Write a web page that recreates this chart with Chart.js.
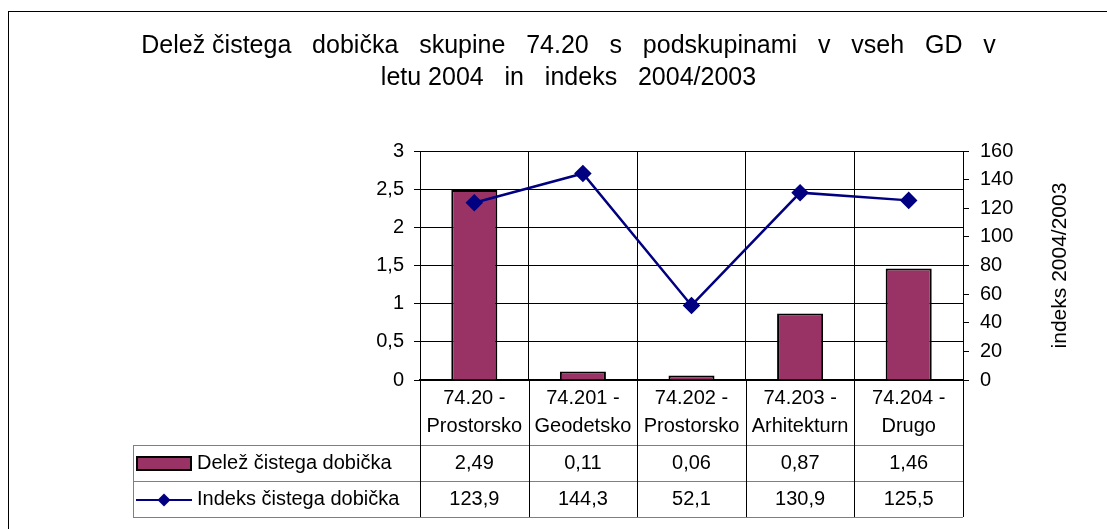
<!DOCTYPE html>
<html>
<head>
<meta charset="utf-8">
<script src="https://cdn.jsdelivr.net/npm/chart.js@4/dist/chart.umd.min.js"></script>
<style>
  body { margin: 0; background: #fff; }
  #wrap { width: 1107px; height: 529px; }
</style>
</head>
<body>
<div id="wrap"><canvas id="chart" width="1107" height="529"></canvas></div>
<script>
// Data
const categories = [
    ['74.20 -', 'Prostorsko'],
    ['74.201 -', 'Geodetsko'],
    ['74.202 -', 'Prostorsko'],
    ['74.203 -', 'Arhitekturn'],
    ['74.204 -', 'Drugo']
];
const shareValues = [2.49, 0.11, 0.06, 0.87, 1.46];
const indexValues = [123.9, 144.3, 52.1, 130.9, 125.5];
const shareName = 'Delež čistega dobička';
const indexName = 'Indeks čistega dobička';
const titleLines = [
    'Delež čistega   dobička   skupine   74.20   s   podskupinami   v   vseh   GD   v',
    'letu 2004   in   indeks   2004/2003'
];
const rightAxisTitle = 'indeks 2004/2003';

const FONT = 'Liberation Sans, Arial, sans-serif';
const BAR_COLOR = '#993366';
const LINE_COLOR = '#000080';
const comma = v => v.toString().replace('.', ',');

// Frame, data table, legend keys, right axis title
const extras = {
    id: 'extras',
    beforeDraw(chart) {
        const ctx = chart.ctx;
        ctx.save();
        ctx.fillStyle = '#fff';
        ctx.fillRect(0, 0, chart.width, chart.height);
        ctx.strokeStyle = '#000';
        ctx.lineWidth = 1;
        ctx.strokeRect(8.5, 11.5, 1300, 700);
        ctx.restore();
    },
    afterDraw(chart) {
        const ctx = chart.ctx;
        const x = chart.scales.x;
        const area = chart.chartArea;
        const n = categories.length;
        const colW = (area.right - area.left) / n;
        const headBottom = area.bottom + 65;
        const rowH = 36;
        const tableLeft = 133;

        ctx.save();
        // horizontal table lines
        ctx.strokeStyle = '#808080';
        ctx.lineWidth = 1;
        [0, 1, 2].forEach(i => {
            const y = Math.round(headBottom + i * rowH) + 0.5;
            ctx.beginPath();
            ctx.moveTo(tableLeft, y);
            ctx.lineTo(area.right, y);
            ctx.stroke();
        });
        ctx.beginPath();
        ctx.moveTo(tableLeft + 0.5, headBottom);
        ctx.lineTo(tableLeft + 0.5, headBottom + 2 * rowH);
        ctx.stroke();

        // vertical column lines below the plot
        ctx.strokeStyle = '#000';
        for (let i = 0; i <= n; i++) {
            const vx = Math.round(area.left + i * colW) + 0.5;
            ctx.beginPath();
            ctx.moveTo(vx, area.bottom);
            ctx.lineTo(vx, headBottom + 2 * rowH);
            ctx.stroke();
        }

        // values
        ctx.fillStyle = '#000';
        ctx.font = '20px ' + FONT;
        ctx.textAlign = 'center';
        ctx.textBaseline = 'middle';
        for (let i = 0; i < n; i++) {
            const cx = x.getPixelForValue(i);
            ctx.fillText(comma(shareValues[i]), cx, headBottom + rowH / 2);
            ctx.fillText(comma(indexValues[i]), cx, headBottom + rowH * 1.5);
        }

        // legend keys
        const y1 = headBottom + rowH / 2;
        const y2 = headBottom + rowH * 1.5;
        ctx.fillStyle = BAR_COLOR;
        ctx.fillRect(137, y1 - 6, 54, 13);
        ctx.strokeStyle = '#000';
        ctx.lineWidth = 2;
        ctx.strokeRect(137, y1 - 6, 54, 13);
        ctx.strokeStyle = LINE_COLOR;
        ctx.beginPath();
        ctx.moveTo(136, y2 + 1);
        ctx.lineTo(192, y2 + 1);
        ctx.stroke();
        ctx.fillStyle = LINE_COLOR;
        ctx.beginPath();
        ctx.moveTo(164, y2 + 1 - 6.5);
        ctx.lineTo(170.5, y2 + 1);
        ctx.lineTo(164, y2 + 1 + 6.5);
        ctx.lineTo(157.5, y2 + 1);
        ctx.closePath();
        ctx.fill();

        ctx.fillStyle = '#000';
        ctx.textAlign = 'left';
        ctx.fillText(shareName, 197, y1);
        ctx.fillText(indexName, 197, y2);

        // right axis title, reading bottom to top
        ctx.font = '21px ' + FONT;
        ctx.textAlign = 'center';
        ctx.translate(1060, (area.top + area.bottom) / 2);
        ctx.rotate(-Math.PI / 2);
        ctx.fillText(rightAxisTitle, 0, 0);
        ctx.restore();
    }
};

new Chart(document.getElementById('chart'), {
    data: {
        labels: categories,
        datasets: [
            {
                type: 'line',
                label: indexName,
                data: indexValues,
                yAxisID: 'y1',
                order: 0,
                borderColor: LINE_COLOR,
                borderWidth: 2.5,
                pointStyle: 'rectRot',
                pointRadius: 7,
                pointBackgroundColor: LINE_COLOR,
                pointBorderColor: LINE_COLOR,
                tension: 0
            },
            {
                type: 'bar',
                label: shareName,
                data: shareValues,
                yAxisID: 'y',
                order: 1,
                backgroundColor: BAR_COLOR,
                borderColor: '#000',
                borderWidth: 2,
                borderSkipped: 'start',
                barPercentage: 0.424,
                categoryPercentage: 1
            }
        ]
    },
    options: {
        responsive: false,
        animation: false,
        layout: { padding: { left: 60, right: 30, top: 0, bottom: 84 } },
        plugins: {
            legend: { display: false },
            tooltip: { enabled: false },
            title: {
                display: true,
                text: titleLines,
                color: '#000',
                font: { family: FONT, size: 25, weight: 'normal', lineHeight: 1.28 },
                padding: { top: 30, bottom: 57 }
            }
        },
        scales: {
            x: {
                offset: true,
                grid: { color: '#000', lineWidth: 1, offset: true, drawTicks: false },
                border: { color: '#000', width: 2 },
                ticks: {
                    color: '#000',
                    font: { family: FONT, size: 20, lineHeight: 1.4 },
                    padding: 4,
                    maxRotation: 0,
                    autoSkip: false
                },
                afterFit: s => { s.height = 65; }
            },
            y: {
                position: 'left',
                min: 0,
                max: 3,
                grid: { color: '#000', lineWidth: 1, tickLength: 6 },
                border: { color: '#000', width: 1 },
                ticks: {
                    stepSize: 0.5,
                    color: '#000',
                    padding: 10,
                    font: { family: FONT, size: 20 },
                    callback: v => comma(v)
                },
                afterFit: s => { s.width = 360; }
            },
            y1: {
                position: 'right',
                min: 0,
                max: 160,
                grid: { drawOnChartArea: false, color: '#000', tickLength: 6 },
                border: { color: '#000', width: 1 },
                ticks: {
                    stepSize: 20,
                    color: '#000',
                    padding: 11,
                    font: { family: FONT, size: 20 }
                },
                afterFit: s => { s.width = 114; }
            }
        }
    },
    plugins: [extras]
});
</script>
</body>
</html>
